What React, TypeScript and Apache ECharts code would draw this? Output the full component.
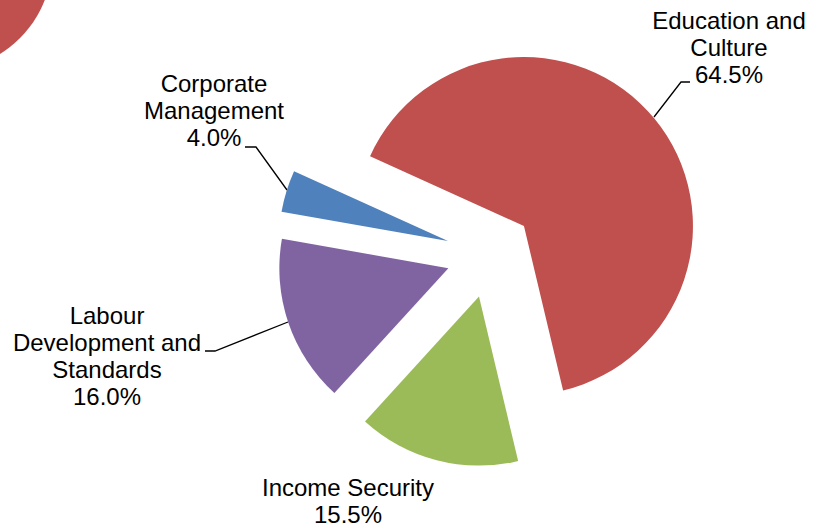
import React, { useEffect, useRef } from "react";
import * as echarts from "echarts";

// ---- data ----
const categories = [
  "Corporate Management",
  "Education and Culture",
  "Income Security",
  "Labour Development and Standards",
];
const shares = [4.0, 64.5, 15.5, 16.0];
const wrappedLabels = [
  "Corporate\nManagement",
  "Education and\nCulture",
  "Income Security",
  "Labour\nDevelopment and\nStandards",
];

// ---- styling / layout ----
const colors = ["#4F81BD", "#C0504D", "#9BBB59", "#8064A2"];
const labelAnchors = [
  [214, 110],
  [729, 47.5],
  [348, 501],
  [107, 356],
];
const leaderPoints: (number[][] | null)[] = [
  [[287, 190], [256, 147], [245, 147]],
  [[654, 117], [681, 82], [690, 82]],
  null,
  [[288, 322], [215, 351], [205, 351]],
];

export default function App() {
  const ref = useRef<HTMLDivElement>(null);
  useEffect(() => {
    document.body.style.margin = "0";
    const chart = echarts.init(ref.current!, null, { renderer: "svg" });
    const common = {
      type: "pie",
      center: [490, 254],
      radius: [0, 169],
      startAngle: 170,
      clockwise: true,
      avoidLabelOverlap: false,
      emphasis: { disabled: true },
    };
    chart.setOption({
      animation: false,
      backgroundColor: "#ffffff",
      graphic: [
        {
          type: "circle",
          shape: { cx: -57, cy: -39, r: 109 },
          style: { fill: "#C0504D" },
          silent: true,
        },
      ],
      series: [
        {
          ...common,
          selectedMode: "multiple",
          selectedOffset: 44,
          itemStyle: { borderWidth: 0 },
          label: { show: false },
          labelLine: { show: false },
          data: categories.map((name, i) => ({
            name,
            value: shares[i],
            selected: true,
            itemStyle: { color: colors[i] },
          })),
        },
        {
          ...common,
          silent: true,
          selectedMode: false,
          itemStyle: { color: "rgba(0,0,0,0)", borderWidth: 0 },
          label: {
            show: true,
            position: "outside",
            fontSize: 24,
            lineHeight: 27,
            color: "#000000",
            fontFamily: "'Liberation Sans', Arial, sans-serif",
            align: "center",
            formatter: (p: any) =>
              wrappedLabels[p.dataIndex] + "\n" + Number(p.value).toFixed(1) + "%",
          },
          labelLine: {
            show: true,
            length: 10,
            length2: 10,
            smooth: false,
            lineStyle: { color: "#000000", width: 1.3 },
          },
          labelLayout: (params: any) => {
            const i = params.dataIndex;
            const out: any = {
              x: labelAnchors[i][0],
              y: labelAnchors[i][1],
              align: "center",
              verticalAlign: "middle",
            };
            if (leaderPoints[i]) out.labelLinePoints = leaderPoints[i];
            return out;
          },
          data: categories.map((name, i) => ({
            name,
            value: shares[i],
            labelLine: { show: leaderPoints[i] !== null },
          })),
        },
      ],
    });
    return () => chart.dispose();
  }, []);
  return <div ref={ref} style={{ width: 823, height: 532 }} />;
}
